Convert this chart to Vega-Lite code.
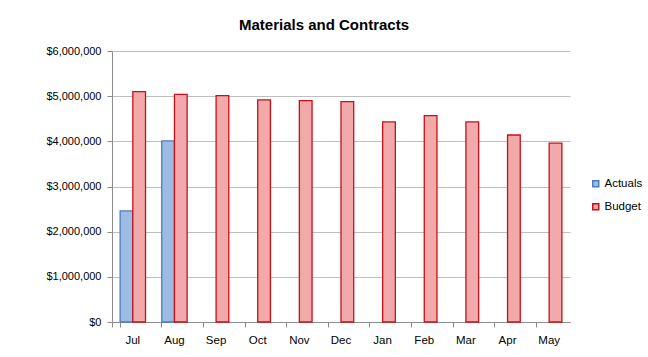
{
  "$schema": "https://vega.github.io/schema/vega-lite/v6.json",
  "width": 458,
  "height": 271,
  "autosize": {"type": "none"},
  "padding": {"left": 112, "top": 51, "right": 78, "bottom": 35},
  "background": "white",
  "title": {
    "text": "Materials and Contracts",
    "font": "Liberation Sans, sans-serif",
    "fontSize": 15,
    "fontWeight": "bold",
    "color": "#000000",
    "anchor": "middle",
    "frame": "group",
    "dx": -17,
    "offset": 12
  },
  "data": {
    "values": [
      {"month": "Jul", "series": "Actuals", "value": 2460000},
      {"month": "Aug", "series": "Actuals", "value": 4010000},
      {"month": "Jul", "series": "Budget", "value": 5100000},
      {"month": "Aug", "series": "Budget", "value": 5040000},
      {"month": "Sep", "series": "Budget", "value": 5010000},
      {"month": "Oct", "series": "Budget", "value": 4920000},
      {"month": "Nov", "series": "Budget", "value": 4900000},
      {"month": "Dec", "series": "Budget", "value": 4880000},
      {"month": "Jan", "series": "Budget", "value": 4430000},
      {"month": "Feb", "series": "Budget", "value": 4570000},
      {"month": "Mar", "series": "Budget", "value": 4430000},
      {"month": "Apr", "series": "Budget", "value": 4140000},
      {"month": "May", "series": "Budget", "value": 3960000}
    ]
  },
  "mark": {"type": "bar", "strokeWidth": 1.3},
  "encoding": {
    "x": {
      "field": "month",
      "type": "nominal",
      "sort": ["Jul", "Aug", "Sep", "Oct", "Nov", "Dec", "Jan", "Feb", "Mar", "Apr", "May"],
      "scale": {"paddingInner": 0.39, "paddingOuter": 0.195},
      "axis": {
        "title": null,
        "labelAngle": 0,
        "bandPosition": 0,
        "tickExtra": true,
        "tickSize": 5,
        "tickColor": "#8c8c8c",
        "domainColor": "#8c8c8c",
        "labelPadding": 7,
        "labelFont": "Liberation Sans, sans-serif",
        "labelFontSize": 11.5,
        "labelColor": "#000000",
        "grid": false
      }
    },
    "xOffset": {"field": "series", "type": "nominal", "sort": ["Actuals", "Budget"], "scale": {"paddingInner": 0}},
    "y": {
      "field": "value",
      "type": "quantitative",
      "scale": {"domain": [0, 6000000]},
      "axis": {
        "title": null,
        "values": [0, 1000000, 2000000, 3000000, 4000000, 5000000, 6000000],
        "format": "$,.0f",
        "tickSize": 5,
        "tickColor": "#8c8c8c",
        "domainColor": "#8c8c8c",
        "gridColor": "#bfbfbf",
        "labelPadding": 6,
        "labelFont": "Liberation Sans, sans-serif",
        "labelFontSize": 11,
        "labelColor": "#000000"
      }
    },
    "fill": {
      "field": "series",
      "type": "nominal",
      "scale": {"domain": ["Actuals", "Budget"], "range": ["#9dbbe3", "#f2a9a9"]},
      "legend": {
        "title": null,
        "orient": "none",
        "legendX": 478,
        "legendY": 127,
        "symbolType": "square",
        "symbolSize": 36,
        "symbolStrokeWidth": 1.5,
        "rowPadding": 10,
        "labelFont": "Liberation Sans, sans-serif",
        "labelFontSize": 11.5,
        "labelColor": "#000000",
        "labelOffset": 3
      }
    },
    "stroke": {
      "field": "series",
      "type": "nominal",
      "scale": {"domain": ["Actuals", "Budget"], "range": ["#4a7ebf", "#c8101a"]},
      "legend": null
    }
  },
  "config": {
    "view": {"stroke": null}
  }
}
